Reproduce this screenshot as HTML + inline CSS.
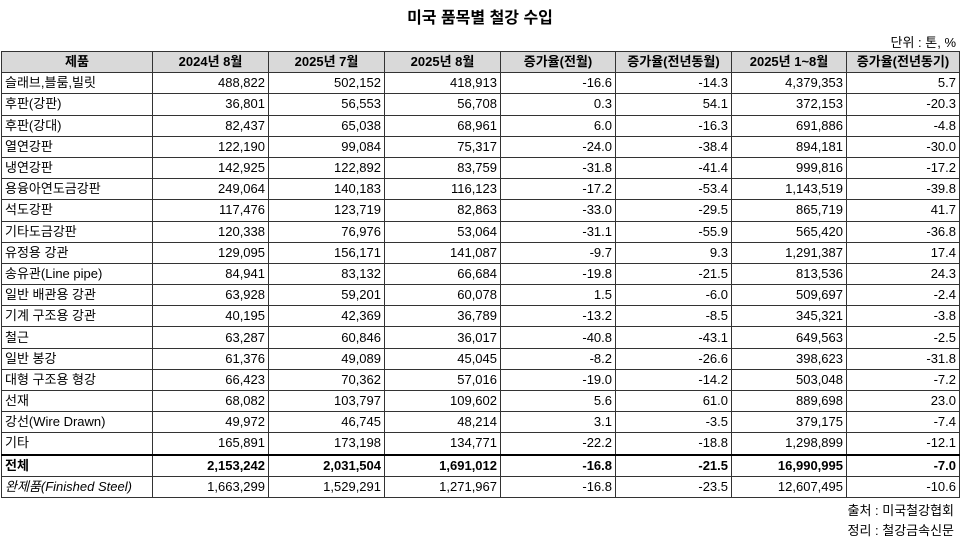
<!DOCTYPE html>
<html><head><meta charset="utf-8"><style>
body{margin:0;width:960px;height:541px;background:#fff;font-family:"Liberation Sans","Noto Sans CJK KR",sans-serif;font-size:13px;color:#000;position:relative;overflow:hidden}
.t{position:absolute;top:4px;left:0;width:960px;text-align:center;font-size:16px;font-weight:bold}
.u{position:absolute;top:32px;right:4px;font-size:13px}
table{position:absolute;top:51px;left:1px;border-collapse:collapse;table-layout:fixed;width:958px}
td{border:1px solid #333;height:20.2px;padding:0 3px;text-align:right;white-space:nowrap;line-height:20px;overflow:hidden}
td:first-child{text-align:left}
tr.h td{background:#d9d9d9;font-weight:bold;text-align:center}
tr.b td{font-weight:bold;border-top:2px solid #000}
tr.i td:first-child{font-style:italic}
.f{position:absolute;right:6px;font-size:13px}
</style></head><body>
<div class="t">미국 품목별 철강 수입</div>
<div class="u">단위 : 톤, %</div>
<table>
<colgroup><col style="width:151px"><col style="width:116px"><col style="width:116px"><col style="width:116px"><col style="width:115px"><col style="width:116px"><col style="width:115px"><col style="width:113px"></colgroup>
<tr class="h"><td>제품</td><td>2024년 8월</td><td>2025년 7월</td><td>2025년 8월</td><td>증가율(전월)</td><td>증가율(전년동월)</td><td>2025년 1~8월</td><td>증가율(전년동기)</td></tr>
<tr><td>슬래브,블룸,빌릿</td><td>488,822</td><td>502,152</td><td>418,913</td><td>-16.6</td><td>-14.3</td><td>4,379,353</td><td>5.7</td></tr>
<tr><td>후판(강판)</td><td>36,801</td><td>56,553</td><td>56,708</td><td>0.3</td><td>54.1</td><td>372,153</td><td>-20.3</td></tr>
<tr><td>후판(강대)</td><td>82,437</td><td>65,038</td><td>68,961</td><td>6.0</td><td>-16.3</td><td>691,886</td><td>-4.8</td></tr>
<tr><td>열연강판</td><td>122,190</td><td>99,084</td><td>75,317</td><td>-24.0</td><td>-38.4</td><td>894,181</td><td>-30.0</td></tr>
<tr><td>냉연강판</td><td>142,925</td><td>122,892</td><td>83,759</td><td>-31.8</td><td>-41.4</td><td>999,816</td><td>-17.2</td></tr>
<tr><td>용융아연도금강판</td><td>249,064</td><td>140,183</td><td>116,123</td><td>-17.2</td><td>-53.4</td><td>1,143,519</td><td>-39.8</td></tr>
<tr><td>석도강판</td><td>117,476</td><td>123,719</td><td>82,863</td><td>-33.0</td><td>-29.5</td><td>865,719</td><td>41.7</td></tr>
<tr><td>기타도금강판</td><td>120,338</td><td>76,976</td><td>53,064</td><td>-31.1</td><td>-55.9</td><td>565,420</td><td>-36.8</td></tr>
<tr><td>유정용 강관</td><td>129,095</td><td>156,171</td><td>141,087</td><td>-9.7</td><td>9.3</td><td>1,291,387</td><td>17.4</td></tr>
<tr><td>송유관(Line pipe)</td><td>84,941</td><td>83,132</td><td>66,684</td><td>-19.8</td><td>-21.5</td><td>813,536</td><td>24.3</td></tr>
<tr><td>일반 배관용 강관</td><td>63,928</td><td>59,201</td><td>60,078</td><td>1.5</td><td>-6.0</td><td>509,697</td><td>-2.4</td></tr>
<tr><td>기계 구조용 강관</td><td>40,195</td><td>42,369</td><td>36,789</td><td>-13.2</td><td>-8.5</td><td>345,321</td><td>-3.8</td></tr>
<tr><td>철근</td><td>63,287</td><td>60,846</td><td>36,017</td><td>-40.8</td><td>-43.1</td><td>649,563</td><td>-2.5</td></tr>
<tr><td>일반 봉강</td><td>61,376</td><td>49,089</td><td>45,045</td><td>-8.2</td><td>-26.6</td><td>398,623</td><td>-31.8</td></tr>
<tr><td>대형 구조용 형강</td><td>66,423</td><td>70,362</td><td>57,016</td><td>-19.0</td><td>-14.2</td><td>503,048</td><td>-7.2</td></tr>
<tr><td>선재</td><td>68,082</td><td>103,797</td><td>109,602</td><td>5.6</td><td>61.0</td><td>889,698</td><td>23.0</td></tr>
<tr><td>강선(Wire Drawn)</td><td>49,972</td><td>46,745</td><td>48,214</td><td>3.1</td><td>-3.5</td><td>379,175</td><td>-7.4</td></tr>
<tr><td>기타</td><td>165,891</td><td>173,198</td><td>134,771</td><td>-22.2</td><td>-18.8</td><td>1,298,899</td><td>-12.1</td></tr>
<tr class="b"><td>전체</td><td>2,153,242</td><td>2,031,504</td><td>1,691,012</td><td>-16.8</td><td>-21.5</td><td>16,990,995</td><td>-7.0</td></tr>
<tr class="i"><td>완제품(Finished Steel)</td><td>1,663,299</td><td>1,529,291</td><td>1,271,967</td><td>-16.8</td><td>-23.5</td><td>12,607,495</td><td>-10.6</td></tr>
</table>
<div class="f" style="top:500px">출처 : 미국철강협회</div>
<div class="f" style="top:520px">정리 : 철강금속신문</div>
</body></html>
